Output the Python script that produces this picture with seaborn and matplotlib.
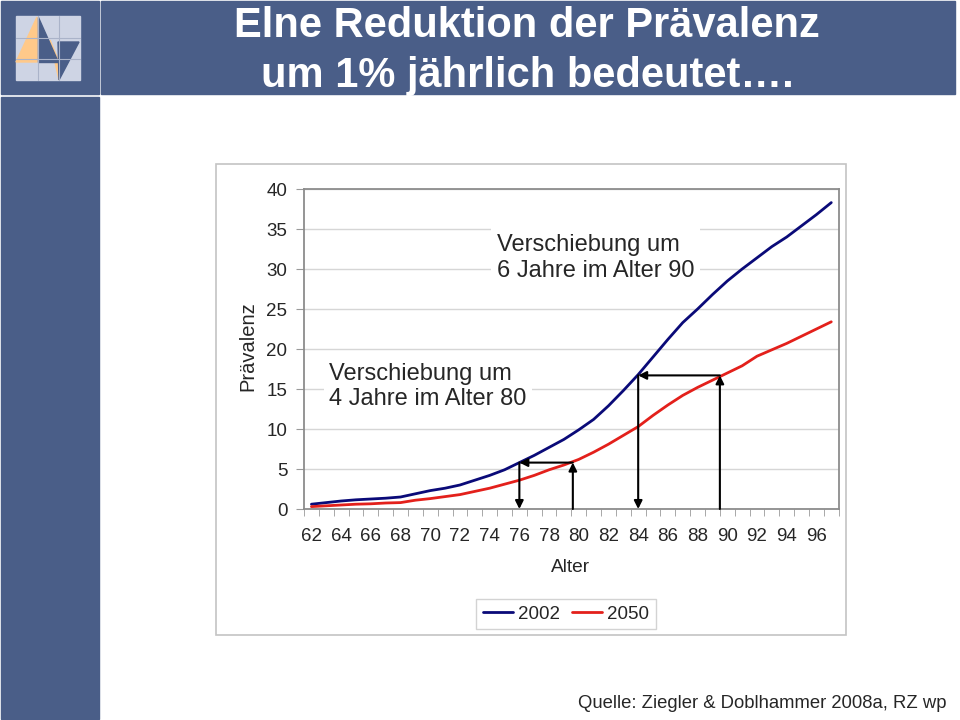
import numpy as np
import pandas as pd
import matplotlib
matplotlib.use("Agg")
import matplotlib.pyplot as plt
from matplotlib.patches import Rectangle, Polygon
import seaborn as sns

sns.set_style("white")
plt.rcParams['font.family'] = ['Liberation Sans', 'DejaVu Sans']

# -----------------------------
# Data
# -----------------------------
ages = list(range(62, 98))
prev_2002 = [0.6, 0.8, 1.0, 1.15, 1.25, 1.35, 1.5, 1.9, 2.3, 2.6,
             3.0, 3.6, 4.2, 4.9, 5.8, 6.7, 7.7, 8.7, 9.9, 11.2,
             12.9, 14.8, 16.8, 19.0, 21.2, 23.3, 25.0, 26.8, 28.5, 30.0,
             31.4, 32.8, 34.0, 35.4, 36.8, 38.3]
prev_2050 = [0.3, 0.4, 0.5, 0.6, 0.65, 0.75, 0.8, 1.1, 1.3, 1.55,
             1.8, 2.2, 2.6, 3.1, 3.6, 4.2, 4.9, 5.5, 6.2, 7.1,
             8.1, 9.2, 10.3, 11.7, 13.0, 14.2, 15.2, 16.1, 17.0, 17.9,
             19.1, 19.9, 20.7, 21.6, 22.5, 23.4]
years = ["2002", "2050"]
colors = {"2002": "#0a0a78", "2050": "#e3201b"}

# shift arrows: age on 2050 curve -> age on 2002 curve at same level
shift_from = [79.6, 89.5]
shift_to = [76, 84]
shift_level = [5.8, 16.7]
shift_text = ["Verschiebung um\n4 Jahre im Alter 80", "Verschiebung um\n6 Jahre im Alter 90"]
text_pos = [(63.2, 15.3), (74.5, 31.4)]

y_ticks = list(range(0, 45, 5))
x_ticks = ages[::2]

title_1 = "Elne Reduktion der Prävalenz"
title_2 = "um 1% jährlich bedeutet…."
source = "Quelle: Ziegler & Doblhammer 2008a, RZ wp"

df = pd.DataFrame({
    "Alter": ages * 2,
    "Prävalenz": prev_2002 + prev_2050,
    "Jahr": ["2002"] * len(ages) + ["2050"] * len(ages),
})

slide_blue = "#4a5e88"

fig = plt.figure(figsize=(9.6, 7.2), dpi=100)

# -----------------------------
# Slide background (pixel coords)
# -----------------------------
bg = fig.add_axes([0, 0, 1, 1])
bg.set_xlim(0, 960)
bg.set_ylim(720, 0)
bg.axis("off")
bg.add_patch(Rectangle((1, 1), 98, 93, color=slide_blue))
bg.add_patch(Rectangle((101, 1), 854, 93, color=slide_blue))
bg.add_patch(Rectangle((1, 97), 98, 622, color=slide_blue))
# logo
bg.add_patch(Rectangle((16, 16), 64, 64, color="#ced4e4"))
for p in [37.5, 58.5]:
    bg.plot([16, 80], [p, p], color="#aab3c9", lw=0.8)
    bg.plot([p, p], [16, 80], color="#aab3c9", lw=0.8)
bg.add_patch(Polygon([(37, 17), (16, 62), (37, 62)], color="#ffc98a"))
bg.add_patch(Polygon([(50, 40), (59, 62), (59, 80)], color="#ffc98a"))
bg.add_patch(Polygon([(38, 17), (38, 62), (58, 62)], color=slide_blue))
bg.add_patch(Polygon([(58, 42), (79, 42), (59, 80)], color=slide_blue))
# chart frame
bg.add_patch(Rectangle((215.5, 164), 630.5, 471, fill=False, ec="#c4c4c4", lw=1.2))

fig.text(527 / 960, 1 - 37 / 720, title_1, ha="center", va="baseline",
         color="white", fontsize=30, fontweight="bold")
fig.text(527 / 960, 1 - 87 / 720, title_2, ha="center", va="baseline",
         color="white", fontsize=30, fontweight="bold")
fig.text(947 / 960, 1 - 704 / 720, source, ha="right", va="center", fontsize=13.3)

# -----------------------------
# Chart
# -----------------------------
ax = fig.add_axes([304 / 960, 1 - 509 / 720, 534.7 / 960, 320 / 720])
sns.lineplot(data=df, x="Alter", y="Prävalenz", hue="Jahr", palette=colors,
             linewidth=2.0, legend=False, ax=ax)

ax.set_xlim(61.5, 97.5)
ax.set_ylim(0, 40)
ax.set_yticks(y_ticks)
ax.set_xticks(x_ticks)
ax.set_xticks(np.arange(61.5, 98, 1), minor=True)
ax.tick_params(axis="x", which="major", length=0, pad=14, labelsize=13.5)
ax.tick_params(axis="x", which="minor", length=5, color="#9a9a9a", direction="out", bottom=True)
ax.tick_params(axis="y", length=6, color="#9a9a9a", direction="out", left=True, pad=6, labelsize=13.5)
ax.grid(axis="y", color="#d6d6d6", lw=1)
for s in ax.spines.values():
    s.set_color("#8c8c8c")
    s.set_linewidth(1.3)

ax.set_xlabel("Alter", fontsize=13.8)
ax.set_ylabel("Prävalenz", fontsize=14.5)
ax.xaxis.set_label_coords(0.499, -0.155)
ax.yaxis.set_label_coords(-0.088, 0.51)

# arrows
arrow = dict(arrowstyle="-|>", color="black", lw=1.5, mutation_scale=12, shrinkA=0, shrinkB=0)
for a0, a1, lev in zip(shift_from, shift_to, shift_level):
    ax.annotate("", xy=(a0, lev), xytext=(a0, 0), arrowprops=arrow)
    ax.annotate("", xy=(a1, lev), xytext=(a0, lev), arrowprops=arrow)
    ax.annotate("", xy=(a1, 0), xytext=(a1, lev), arrowprops=arrow)

for txt, (tx, ty) in zip(shift_text, text_pos):
    ax.text(tx, ty, txt, ha="left", va="center", fontsize=17, linespacing=1.2,
            bbox=dict(facecolor="white", edgecolor="none", pad=4))

handles = ax.lines[:2]
leg = fig.legend(handles, years, loc="center", ncol=2,
                 bbox_to_anchor=(566 / 960, 1 - 614 / 720), fontsize=13.5,
                 frameon=True, fancybox=False, edgecolor="#c8c8c8",
                 handlelength=1.6, handletextpad=0.3, columnspacing=0.6,
                 borderpad=0.35)
leg.get_frame().set_linewidth(1.0)

plt.savefig("out.png", dpi=100)
